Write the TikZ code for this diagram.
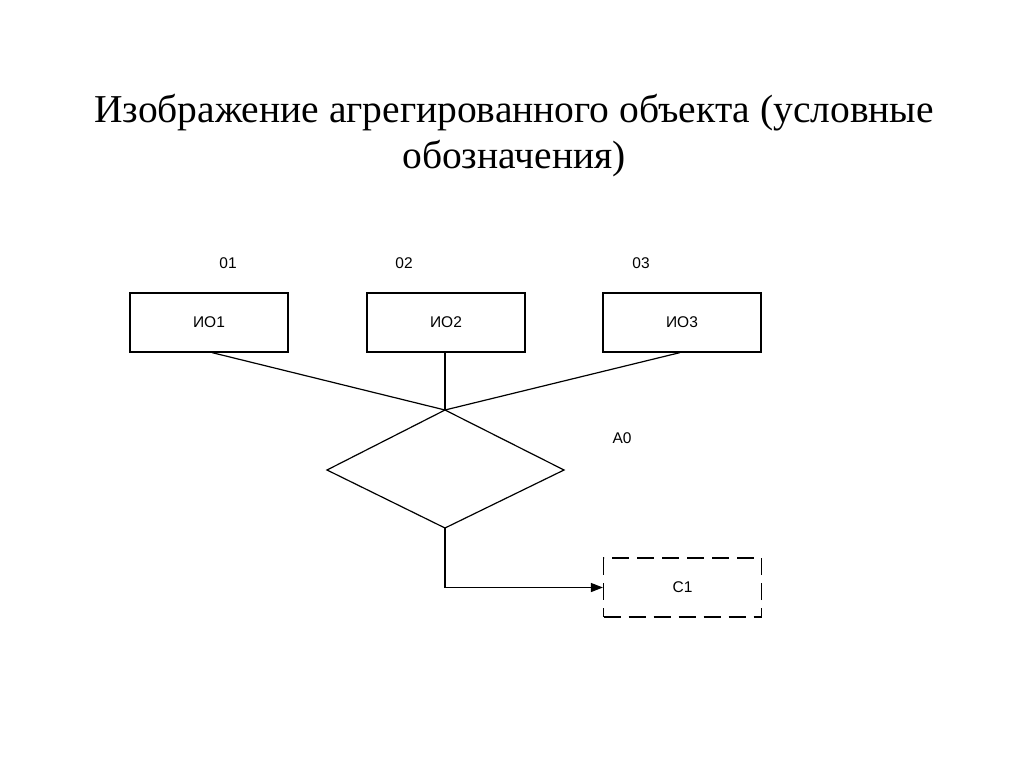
\documentclass[tikz,border=0pt]{standalone}
\usepackage{fontspec}
\setmainfont{Liberation Serif}
\newfontfamily\lsans{Liberation Sans}
\usetikzlibrary{arrows.meta}
\begin{document}
\begin{tikzpicture}[x=1pt,y=-1pt,
  line width=1.2pt,
  box/.style={draw,minimum width=158pt,minimum height=59pt,inner sep=0pt,font=\lsans\fontsize{15.5}{18}\selectfont},
  dbox/.style={box,dash pattern=on 17pt off 8pt},
  lbl/.style={font=\lsans\fontsize{15.5}{18}\selectfont,inner sep=0pt},
  ttl/.style={font=\fontsize{39.5}{46}\selectfont,align=center,inner sep=0pt}]
\useasboundingbox (0,0) rectangle (1024,768);
\node[ttl] (title) at (514,136) {Изображение агрегированного объекта (условные\\обозначения)};
\node[box] (io1) at (209,322.5) {ИО1};
\node[box] (io2) at (446,322.5) {ИО2};
\node[box] (io3) at (682,322.5) {ИО3};
\node[lbl] (l1) at (228,263) {01};
\node[lbl] (l2) at (404,263) {02};
\node[lbl] (l3) at (641,263) {03};
\node[lbl] (a0) at (622,438) {A0};
\coordinate (j) at (445,410);
\coordinate (dl) at (327,470);
\coordinate (dr) at (564,470);
\coordinate (db) at (445,528);
\draw (j) -- (dr) -- (db) -- (dl) -- cycle;
\draw (io1.south -| 212,0) -- (j);
\draw (io2.south -| j) -- (j);
\draw (io3.south -| 680,0) -- (j);
\node[dbox] (c1) at (682.5,587.5) {C1};
\draw[-{Triangle[length=12pt,width=9pt]}] (db) |- (c1.west);
\end{tikzpicture}
\end{document}
